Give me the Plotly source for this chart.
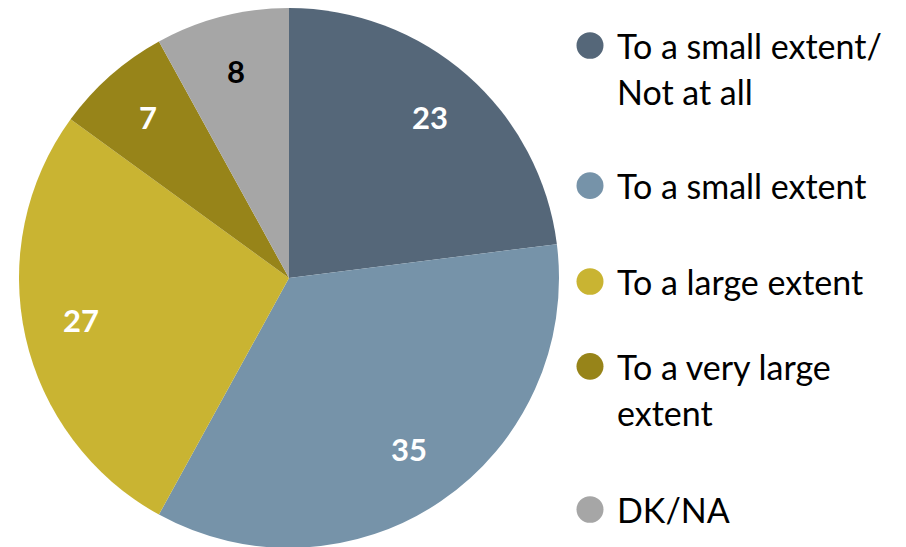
import math
import plotly.graph_objects as go

categories = ["To a small extent/<br>Not at all", "To a small extent", "To a large extent",
              "To a very large<br>extent", "DK/NA"]
values = [23, 35, 27, 7, 8]
colors = ["#556779", "#7693a9", "#c9b432", "#978419", "#a6a6a6"]
label_colors = ["white", "white", "white", "white", "black"]

W, H = 906, 547
OFF = 8  # page body margin
FONT = "Lato, Carlito, Calibri, sans-serif"

# pie geometry (figure pixels)
CX, CY, R = 289 - OFF, 278 - OFF, 270
T = CY - R
B = H - (CY + R)

fig = go.Figure(go.Pie(
    labels=categories, values=values, sort=False, direction="clockwise", rotation=0,
    marker=dict(colors=colors, line=dict(width=0)),
    textinfo="none",
    domain=dict(x=[(CX - R) / W, (CX + R) / W], y=[0, 1]),
    showlegend=False, hoverinfo="label+value",
))

annotations, shapes = [], []
total = sum(values)
cum = 0
for v, lc in zip(values, label_colors):
    mid = (cum + v / 2) / total * 2 * math.pi
    cum += v
    px = CX + 0.79 * R * math.sin(mid)
    py = CY - 0.79 * R * math.cos(mid)
    annotations.append(dict(text=f"<b>{v}</b>", xref="paper", yref="paper",
                            x=px / W, y=1 - py / H, xanchor="center", yanchor="middle",
                            showarrow=False, font=dict(family=FONT, size=31, color=lc)))

legend_y = [46, 188, 285, 371, 516]
line_h = 47
for i, (name, c) in enumerate(zip(categories, colors)):
    yc = legend_y[i] - OFF
    xc = 590 - OFF
    shapes.append(dict(type="circle", xref="paper", yref="paper",
                       x0=(xc - 13.5) / W, x1=(xc + 13.5) / W,
                       y0=1 - (yc + 13.5) / H, y1=1 - (yc - 13.5) / H,
                       fillcolor=c, line=dict(width=0)))
    for j, part in enumerate(name.split("<br>")):
        annotations.append(dict(text=part, xref="paper", yref="paper",
                                x=(615 - OFF) / W, y=1 - (yc + j * line_h) / H,
                                xanchor="left", yanchor="middle", showarrow=False,
                                font=dict(family=FONT, size=34, color="black")))

fig.update_layout(width=W, height=H, margin=dict(l=0, r=0, t=T, b=B),
                  paper_bgcolor="white", plot_bgcolor="white",
                  shapes=shapes, annotations=annotations)
fig.write_html("out.html")
